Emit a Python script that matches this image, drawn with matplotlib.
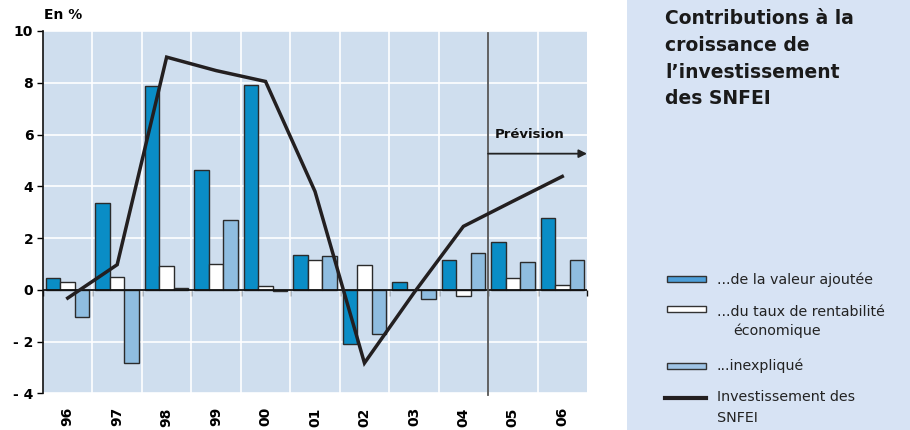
import matplotlib
matplotlib.use("Agg")
import matplotlib.pyplot as plt
import numpy as np
from matplotlib.patches import Rectangle
from matplotlib.lines import Line2D

# Data
years = ["96", "97", "98", "99", "00", "01", "02", "03", "04", "05", "06"]
valeur_ajoutee = [0.45, 3.37, 7.88, 4.61, 7.91, 1.33, -2.10, 0.30, 1.17, 1.83, 2.77]
rentabilite = [0.30, 0.48, 0.91, 0.99, 0.14, 1.15, 0.95, 0.00, -0.24, 0.44, 0.19]
inexplique = [-1.06, -2.83, 0.05, 2.68, -0.04, 1.29, -1.71, -0.36, 1.44, 1.09, 1.17]
investissement = [-0.32, 0.97, 8.99, 8.47, 8.05, 3.80, -2.83, -0.12, 2.45, 3.42, 4.38]
yticks = [-4, -2, 0, 2, 4, 6, 8, 10]
ytick_labels = ["- 4", "- 2", "0", "2", "4", "6", "8", "10"]
forecast_start = "05"

C_BLUE = "#0a8dc6"
C_LIGHT = "#8fbde0"
C_WHITE = "#ffffff"
C_EDGE = "#2b2b2b"
C_LINE = "#231f20"
C_PLOT_BG = "#cfdeee"
C_PANEL = "#d7e3f4"

plt.rcParams["font.family"] = ["DejaVu Sans"]

W, H = 910, 430
fig = plt.figure(figsize=(W / 100, H / 100), dpi=100)


def fx(px):
    return px / W


def fy(py):
    return 1 - py / H


# Right-hand caption panel
fig.patches.append(Rectangle((fx(627), 0), 1 - fx(627), 1,
                             transform=fig.transFigure, facecolor=C_PANEL,
                             edgecolor="none", zorder=0))

ax = fig.add_axes([fx(43), fy(393.3), (587 - 43) / W, (393.3 - 31) / H])
ax.set_facecolor(C_PLOT_BG)

x = np.arange(len(years))
w = 0.293
ax.bar(x - w, valeur_ajoutee, w, color=C_BLUE, edgecolor=C_EDGE, linewidth=1.0, zorder=3)
ax.bar(x, rentabilite, w, color=C_WHITE, edgecolor=C_EDGE, linewidth=1.0, zorder=3)
ax.bar(x + w, inexplique, w, color=C_LIGHT, edgecolor=C_EDGE, linewidth=1.0, zorder=3)
ax.plot(x, investissement, color=C_LINE, linewidth=2.5, zorder=5,
        solid_joinstyle="miter")

ax.set_xlim(-0.5, len(years) - 0.5)
ax.set_ylim(-4, 10)

# White grid: horizontal at y ticks, vertical at category boundaries
for yv in yticks:
    ax.axhline(yv, color="white", linewidth=1.2, zorder=1)
for b in np.arange(0.5, len(years) - 0.5, 1.0):
    ax.axvline(b, color="white", linewidth=1.2, zorder=1)

# Zero line with boundary ticks
ax.axhline(0, color="#111111", linewidth=1.3, zorder=4)
zero_axis = ax.secondary_xaxis(4 / 14)
zero_axis.set_xticks(np.arange(-0.5, len(years), 1.0))
zero_axis.set_xticklabels([])
zero_axis.tick_params(axis="x", direction="out", length=4.5, width=1.0, color="#111111")
zero_axis.spines["bottom"].set_visible(False)
zero_axis.spines["top"].set_visible(False)

# Forecast marker
fi = years.index(forecast_start) - 0.5
ax.axvline(fi, ymin=-0.005, ymax=0.995, color="#555555", linewidth=1.3, zorder=4,
           clip_on=False)
ax.annotate("", xy=(len(years) - 0.5, 5.26), xytext=(fi, 5.26),
            arrowprops=dict(arrowstyle="-|>", color="#222222", lw=1.3,
                            mutation_scale=12, shrinkA=0, shrinkB=0),
            annotation_clip=False, zorder=6)
ax.text(fi + 0.14, 6.0, "Prévision", fontsize=9.5, fontweight="bold",
        ha="left", va="center", color="#111111", zorder=6)

# Axes styling
for s in ["top", "right", "bottom"]:
    ax.spines[s].set_visible(False)
ax.spines["left"].set_color("#111111")
ax.spines["left"].set_linewidth(1.2)
ax.set_yticks(yticks)
ax.set_yticklabels(ytick_labels, fontsize=10, fontweight="bold")
ax.tick_params(axis="y", direction="out", length=4, width=1.0, pad=3)
ax.set_xticks(x)
ax.set_xticklabels(years, rotation=90, fontsize=10, fontweight="bold")
ax.tick_params(axis="x", length=0, pad=10)

fig.text(fx(44), fy(15), "En %", fontsize=10, fontweight="bold",
         ha="left", va="center")

# Caption title
fig.text(fx(665), fy(9),
         "Contributions à la\ncroissance de\nl\u2019investissement\ndes SNFEI",
         fontsize=13.5, fontweight="bold", ha="left", va="top", color="#1a1a1a",
         linespacing=1.52)

# Legend drawn as a key beside the chart
key_patches = [("#4d9fd9", 279.3), ("white", 309.3), ("#9fc4e6", 365.7)]
for color, cy in key_patches:
    fig.patches.append(Rectangle((fx(666.7), fy(cy + 3)), (706 - 666.7) / W, 6 / H,
                                 transform=fig.transFigure, facecolor=color,
                                 edgecolor="#333333", linewidth=1.0, zorder=2))
fig.lines.append(Line2D([fx(665), fx(706)], [fy(398.3), fy(398.3)],
                        transform=fig.transFigure, color=C_LINE, linewidth=3.0))

key_texts = [
    ("...de la valeur ajoutée", 717, 279.5),
    ("...du taux de rentabilité", 717, 311.5),
    ("économique", 733, 330.5),
    ("...inexpliqué", 717, 366.0),
    ("Investissement des", 717, 397.0),
    ("SNFEI", 717, 417.5),
]
for txt, px, py in key_texts:
    fig.text(fx(px), fy(py), txt, fontsize=10.3, ha="left", va="center",
             color="#222222")

fig.savefig("out.png", dpi=100)
